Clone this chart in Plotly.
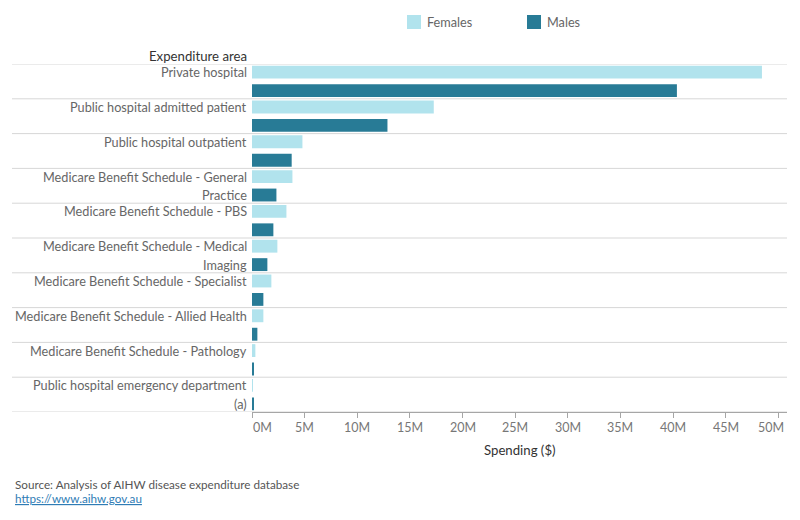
import plotly.graph_objects as go

# ---------------- data ----------------
categories = [
    "Private hospital",
    "Public hospital admitted patient",
    "Public hospital outpatient",
    "Medicare Benefit Schedule - General<br>Practice",
    "Medicare Benefit Schedule - PBS",
    "Medicare Benefit Schedule - Medical<br>Imaging",
    "Medicare Benefit Schedule - Specialist",
    "Medicare Benefit Schedule - Allied Health",
    "Medicare Benefit Schedule - Pathology",
    "Public hospital emergency department<br>(a)",
]
females = [48.45, 17.27, 4.79, 3.84, 3.27, 2.41, 1.84, 1.08, 0.32, 0.08]   # $M
males = [40.37, 12.87, 3.77, 2.32, 2.03, 1.46, 1.08, 0.51, 0.13, 0.10]     # $M
series_names = ["Females", "Males"]
tick_values = [0, 5, 10, 15, 20, 25, 30, 35, 40, 45, 50]
tick_labels = ["0M", "5M", "10M", "15M", "20M", "25M", "30M", "35M", "40M", "45M", "50M"]
y_title = "Expenditure area"
x_title = "Spending ($)"
source_text = "Source: Analysis of AIHW disease expenditure database"
source_link = "https://www.aihw.gov.au"

# ---------------- style ----------------
FONT = "Lato"
C_F = "#b1e3ed"
C_M = "#287b96"
GRID = "#d7d7d7"
W, H = 800, 520
ML, MR, MT, MB = 252, 13, 64, 108
PW = W - ML - MR
PH = H - MT - MB
OFF = 0.265
BW = 0.37
XMAX = 50.83
LAB = 12.7


def px_x(px):
    return (px - ML) / PW


def px_y(py):
    return (H - MB - py) / PH


idx = list(range(len(categories)))
fig = go.Figure()
fig.add_trace(go.Bar(y=[i - OFF for i in idx], x=females, orientation="h", width=BW,
                     marker=dict(color=C_F, line=dict(width=0)), name=series_names[0],
                     showlegend=False, hovertext=[c.replace("<br>", " ") for c in categories]))
fig.add_trace(go.Bar(y=[i + OFF for i in idx], x=males, orientation="h", width=BW,
                     marker=dict(color=C_M, line=dict(width=0)), name=series_names[1],
                     showlegend=False, hovertext=[c.replace("<br>", " ") for c in categories]))

shapes = []
for i in range(len(categories) + 1):
    shapes.append(dict(type="line", xref="paper", yref="y", x0=px_x(12), x1=1,
                       y0=i - 0.5, y1=i - 0.5, line=dict(color=GRID, width=1), layer="below"))

annotations = []
# category labels: first line aligned to female bar, second to male bar
for i, c in enumerate(categories):
    lines = c.split("<br>")
    for k, ln in enumerate(lines):
        annotations.append(dict(xref="paper", yref="y", x=0, xshift=-3, xanchor="right",
                                y=i - OFF if k == 0 else i + OFF, yanchor="middle",
                                text=ln, showarrow=False,
                                font=dict(family=FONT, size=LAB, color="#666666")))
annotations.append(dict(xref="paper", yref="paper", x=0, xshift=-3, xanchor="right",
                        y=px_y(56), yanchor="middle", text=y_title, showarrow=False,
                        font=dict(family=FONT, size=13.2, color="#333333")))
# x tick labels
for j, (tv, tl) in enumerate(zip(tick_values, tick_labels)):
    shift = 0
    if j == 0:
        shift = 10
    elif j == len(tick_values) - 1:
        shift = -7
    annotations.append(dict(xref="x", yref="paper", x=tv, y=0, yshift=-15, xshift=shift,
                            xanchor="center", yanchor="middle", text=tl, showarrow=False,
                            font=dict(family=FONT, size=12.5, color="#777777")))
annotations.append(dict(xref="paper", yref="paper", x=0.5, y=0, yshift=-38,
                        xanchor="center", yanchor="middle", text=x_title, showarrow=False,
                        font=dict(family=FONT, size=13.2, color="#333333")))
# source
annotations.append(dict(xref="paper", yref="paper", x=px_x(13), y=px_y(484), xanchor="left",
                        yanchor="middle", text=source_text, showarrow=False,
                        font=dict(family=FONT, size=11.7, color="#555555")))
annotations.append(dict(xref="paper", yref="paper", x=px_x(13), y=px_y(498), xanchor="left",
                        yanchor="middle",
                        text=f'<a href="{source_link}" style="color:#2f7cb5;text-decoration:underline">{source_link}</a>',
                        showarrow=False, font=dict(family=FONT, size=11.7, color="#2f7cb5")))

# legend (manual)
for name, col, sx in [(series_names[0], C_F, 407), (series_names[1], C_M, 527)]:
    shapes.append(dict(type="rect", xref="paper", yref="paper", x0=px_x(sx), x1=px_x(sx + 14),
                       y0=px_y(29), y1=px_y(15), fillcolor=col, line=dict(width=0)))
    annotations.append(dict(xref="paper", yref="paper", x=px_x(sx + 18), y=px_y(22),
                            xanchor="left", yanchor="middle", text=name, showarrow=False,
                            font=dict(family=FONT, size=LAB, color="#666666")))

fig.update_layout(
    width=W, height=H,
    margin=dict(l=ML, r=MR, t=MT, b=MB),
    paper_bgcolor="white", plot_bgcolor="white",
    font=dict(family=FONT, size=12, color="#666666"),
    barmode="overlay",
    xaxis=dict(range=[0, XMAX], tickvals=tick_values, showticklabels=False,
               showgrid=False, zeroline=False, showline=True, linecolor="#a6a6a6",
               ticks="outside", ticklen=5, tickcolor="#a6a6a6", fixedrange=True),
    yaxis=dict(range=[len(categories) - 0.5, -0.5], showticklabels=False, showgrid=False,
               zeroline=False, showline=False, fixedrange=True),
    shapes=shapes,
    annotations=annotations,
    showlegend=False,
)

fig.write_html("out.html")
